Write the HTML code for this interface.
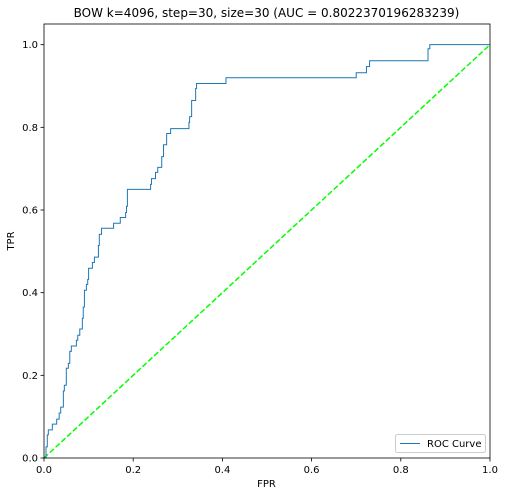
<!DOCTYPE html>
<html><head><meta charset="utf-8"><style>
body{margin:0;background:#fff;}
svg text{font-family:"DejaVu Sans","Liberation Sans",sans-serif;fill:#000;}
</style></head><body>
<svg id="chart" width="505" height="496" viewBox="0 0 505 496" xmlns="http://www.w3.org/2000/svg">
<rect width="505" height="496" fill="#fff"/>
<text x="266.5" y="17" font-size="12" text-anchor="middle">BOW k=4096, step=30, size=30 (AUC = 0.8022370196283239)</text>
<g id="plot"></g>
<text x="266.5" y="487" font-size="10" text-anchor="middle">FPR</text>
<text x="14" y="241" font-size="10" text-anchor="middle" transform="rotate(-90 14 241)">TPR</text>
</svg>
<script>
const fpr=[0,0.002,0.0045,0.0045,0.0074,0.0074,0.0097,0.0097,0.0187,0.0187,0.0285,0.0285,0.034,0.034,0.0375,0.0375,0.0434,0.0434,0.0456,0.0456,0.050,0.050,0.0546,0.0546,0.0578,0.0578,0.0613,0.0613,0.0726,0.0726,0.0757,0.0757,0.0802,0.0802,0.086,0.086,0.088,0.088,0.0906,0.0906,0.095,0.095,0.098,0.098,0.100,0.100,0.1085,0.1085,0.113,0.113,0.122,0.122,0.124,0.124,0.129,0.129,0.156,0.156,0.171,0.171,0.183,0.183,0.185,0.185,0.187,0.187,0.239,0.239,0.241,0.241,0.250,0.250,0.255,0.255,0.264,0.264,0.268,0.268,0.275,0.275,0.284,0.284,0.325,0.325,0.3265,0.3265,0.331,0.331,0.340,0.340,0.342,0.342,0.408,0.408,0.700,0.700,0.723,0.723,0.730,0.730,0.861,0.861,0.865,0.865,1.0];
const tpr=[0,0,0,0.027,0.027,0.056,0.056,0.068,0.068,0.082,0.082,0.094,0.094,0.109,0.109,0.123,0.123,0.162,0.162,0.176,0.176,0.217,0.217,0.229,0.229,0.258,0.258,0.271,0.271,0.285,0.285,0.297,0.297,0.312,0.312,0.338,0.338,0.365,0.365,0.406,0.406,0.420,0.420,0.432,0.432,0.459,0.459,0.473,0.473,0.486,0.486,0.514,0.514,0.541,0.541,0.556,0.556,0.568,0.568,0.582,0.582,0.594,0.594,0.609,0.609,0.650,0.650,0.662,0.662,0.676,0.676,0.691,0.691,0.703,0.703,0.729,0.729,0.758,0.758,0.785,0.785,0.797,0.797,0.812,0.812,0.826,0.826,0.865,0.865,0.894,0.894,0.906,0.906,0.920,0.920,0.932,0.932,0.947,0.947,0.961,0.961,0.990,0.990,1.0,1.0];
const xTicks=[0,0.2,0.4,0.6,0.8,1.0];
const yTicks=[0,0.2,0.4,0.6,0.8,1.0];
const xTickLabels=["0.0","0.2","0.4","0.6","0.8","1.0"];
const yTickLabels=["0.0","0.2","0.4","0.6","0.8","1.0"];
const L=44,R=490,T=24,B=458,YMAX=1.05;
const sx=v=>L+v*(R-L);
const sy=v=>B-v/YMAX*(B-T);
const NS="http://www.w3.org/2000/svg";
const g=document.getElementById('plot');
function mk(tag,attrs){const e=document.createElementNS(NS,tag);for(const k in attrs)e.setAttribute(k,attrs[k]);g.appendChild(e);return e;}
// diagonal
const diag=mk('line',{x1:sx(0),y1:sy(0),x2:sx(1),y2:sy(1),stroke:'#00ff00','stroke-width':1.5,'stroke-dasharray':'5.5,2.4'});


// roc
let d='';for(let i=0;i<fpr.length;i++){d+=(i?'L':'M')+sx(fpr[i]).toFixed(2)+' '+sy(tpr[i]).toFixed(2);}
const roc=mk('path',{d:d,fill:'none',stroke:'#1f77b4','stroke-width':1});


// frame
const fr=mk('rect',{x:L,y:T,width:R-L,height:B-T,fill:'none',stroke:'#000','stroke-width':0.8});


xTicks.forEach((v,i)=>{
 const t=mk('line',{x1:sx(v),y1:B,x2:sx(v),y2:B+3.5,stroke:'#000','stroke-width':0.8});
 
 
 const tx=mk('text',{x:sx(v),y:B+15,'font-size':10,'text-anchor':'middle'});
 tx.textContent=xTickLabels[i];
 
 
});
yTicks.forEach((v,i)=>{
 const t=mk('line',{x1:L-3.5,y1:sy(v),x2:L,y2:sy(v),stroke:'#000','stroke-width':0.8});
 
 
 const tx=mk('text',{x:L-6,y:sy(v)+3.5,'font-size':10,'text-anchor':'end'});
 tx.textContent=yTickLabels[i];
 
 
});
// legend
const lg=mk('rect',{x:395.5,y:434.5,width:90,height:18,rx:2,fill:'#fff',stroke:'#ccc','stroke-width':1});


const ll=mk('line',{x1:400,y1:443.5,x2:420,y2:443.5,stroke:'#1f77b4','stroke-width':1});


const lt=mk('text',{x:427,y:447,'font-size':10});
lt.textContent='ROC Curve';


</script>
</body></html>
